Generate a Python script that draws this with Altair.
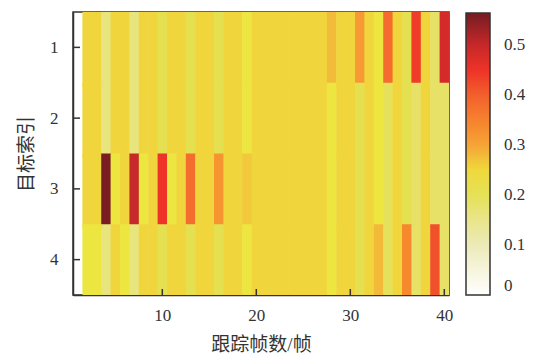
import altair as alt
import pandas as pd

# ---- data ----
frames = list(range(2, 41))  # frames 2..40 (frame 1 empty)

target1 = [0.255, 0.255, 0.165, 0.255, 0.255, 0.165, 0.255, 0.255, 0.205, 0.255,
           0.255, 0.205, 0.255, 0.255, 0.205, 0.255, 0.255, 0.232, 0.255, 0.255,
           0.255, 0.255, 0.255, 0.255, 0.255, 0.255, 0.275, 0.255, 0.255, 0.31,
           0.255, 0.232, 0.385, 0.255, 0.205, 0.44, 0.255, 0.185, 0.49]
target2 = [0.255, 0.255, 0.165, 0.255, 0.255, 0.165, 0.255, 0.255, 0.205, 0.255,
           0.255, 0.205, 0.255, 0.255, 0.205, 0.255, 0.255, 0.232, 0.255, 0.255,
           0.255, 0.255, 0.255, 0.255, 0.255, 0.255, 0.232, 0.255, 0.255, 0.205,
           0.255, 0.232, 0.195, 0.255, 0.205, 0.185, 0.255, 0.185, 0.185]
target3 = [0.255, 0.255, 0.56, 0.232, 0.255, 0.50, 0.232, 0.255, 0.45, 0.232,
           0.255, 0.385, 0.255, 0.255, 0.32, 0.255, 0.255, 0.265, 0.255, 0.255,
           0.255, 0.255, 0.255, 0.255, 0.255, 0.255, 0.232, 0.255, 0.255, 0.205,
           0.255, 0.232, 0.195, 0.255, 0.205, 0.185, 0.255, 0.185, 0.185]
target4 = [0.232, 0.232, 0.165, 0.255, 0.232, 0.165, 0.255, 0.255, 0.205, 0.255,
           0.255, 0.205, 0.255, 0.255, 0.205, 0.255, 0.255, 0.232, 0.255, 0.255,
           0.255, 0.255, 0.255, 0.255, 0.255, 0.255, 0.232, 0.255, 0.255, 0.205,
           0.255, 0.278, 0.195, 0.255, 0.34, 0.185, 0.255, 0.42, 0.185]

targets = [1, 2, 3, 4]
rows = [target1, target2, target3, target4]
x_ticks = [10, 20, 30, 40]
legend_ticks = [0, 0.1, 0.2, 0.3, 0.4, 0.5]

# colormap stops (style)
cmap_domain = [0.0, 0.1, 0.165, 0.205, 0.232, 0.255, 0.275, 0.31, 0.34, 0.385,
               0.42, 0.45, 0.49, 0.565]
cmap_range = ["#ffffff", "#eceab8", "#e8e47e", "#e5e050", "#ede640", "#f0d63c",
              "#f2bc3a", "#f89a34", "#f6882e", "#f46c2e", "#f0502a", "#ee3328",
              "#d42a2a", "#741c22"]

# cells overlap their right/lower neighbour by a hair so no seams appear
OVER = 0.56
records = []
for t, row in zip(targets, rows):
    for f, v in zip(frames, row):
        records.append({"frame": f, "target": t, "value": v,
                        "x0": f - 0.5, "x1": f + OVER, "y0": t - 0.5, "y1": t + OVER})
df = pd.DataFrame(records)

FONT = "'Liberation Serif', 'Times New Roman', 'Noto Sans CJK SC', serif"
DARK = "#333333"

xscale = alt.Scale(domain=[0.5, 40.5], nice=False, zero=False)
yscale = alt.Scale(domain=[0.5, 4.5], nice=False, zero=False, reverse=True)
cscale = alt.Scale(domain=cmap_domain, range=cmap_range, interpolate="rgb")
xaxis = alt.Axis(values=x_ticks, title="跟踪帧数/帧", format="d",
                 tickSize=0, labelPadding=12, titlePadding=12)
yaxis = alt.Axis(values=targets, title="目标索引", format="d",
                 tickSize=0, labelPadding=15, titlePadding=13)

heat = alt.Chart(df).mark_rect(strokeWidth=0, clip=True).encode(
    x=alt.X("x0:Q", scale=xscale, axis=xaxis),
    x2="x1:Q",
    y=alt.Y("y0:Q", scale=yscale, axis=yaxis),
    y2="y1:Q",
    color=alt.Color("value:Q", scale=cscale,
                    legend=alt.Legend(orient="none", legendX=393, legendY=1,
                                      title=None, values=legend_ticks,
                                      format=".1~f", gradientLength=282,
                                      gradientThickness=24,
                                      gradientStrokeColor=DARK,
                                      gradientStrokeWidth=1.5,
                                      labelFontSize=17, labelFont=FONT,
                                      labelColor=DARK, labelOffset=14,
                                      padding=0)),
)

ytick_df = pd.DataFrame({"y0": targets})
xtick_df = pd.DataFrame({"x0": x_ticks})

yticks = alt.Chart(ytick_df).mark_rule(color=DARK, strokeWidth=1.5).encode(
    y=alt.Y("y0:Q", scale=yscale, axis=yaxis),
    x=alt.value(0), x2=alt.value(7))
xticks = alt.Chart(xtick_df).mark_rule(color=DARK, strokeWidth=1.5).encode(
    x=alt.X("x0:Q", scale=xscale, axis=xaxis),
    y=alt.value(283), y2=alt.value(277))

chart = alt.layer(heat, yticks, xticks).properties(
    width=376, height=283,
    autosize=alt.AutoSizeParams(type="none"),
    padding={"left": 73, "top": 12, "right": 86, "bottom": 66},
).configure_view(stroke=DARK, strokeWidth=1.5).configure_axis(
    grid=False, domainColor=DARK, domainWidth=1.5,
    labelFont=FONT, labelFontSize=17, labelColor=DARK,
    titleFont=FONT, titleFontSize=19, titleFontWeight="normal", titleColor=DARK,
)

chart.save("out.html", embed_options={"renderer": "svg", "actions": False})
